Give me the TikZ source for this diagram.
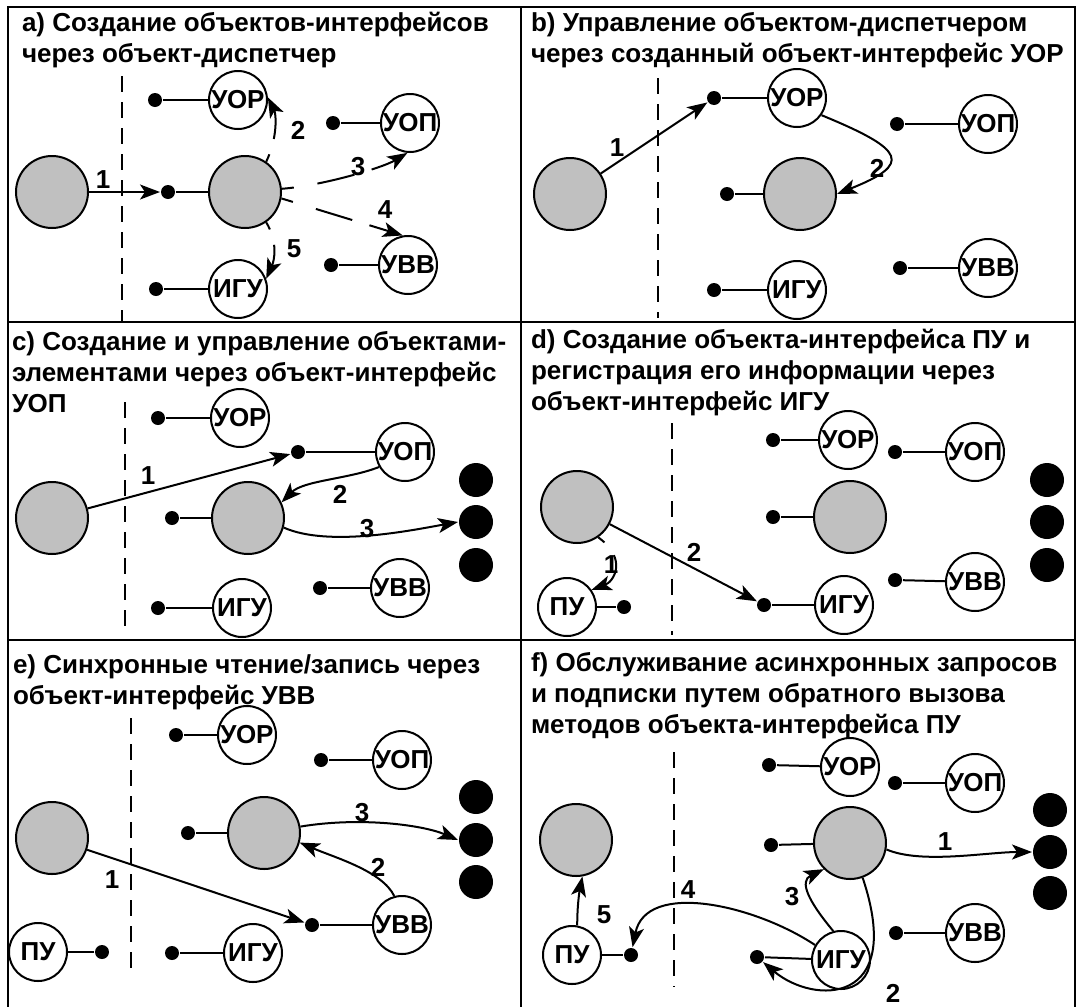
\documentclass[tikz,border=0pt]{standalone}
\usepackage{fontspec}
\setmainfont{Liberation Sans}
\usetikzlibrary{arrows.meta}
\definecolor{shade}{HTML}{C0C0C0}
\tikzset{
    disp/.style = {
        draw,
        shape=circle,
        fill=shade,
        minimum size=36pt,
        inner sep=0pt,
        line width=1pt
    },
    iface/.style = {
        draw,
        shape=circle,
        fill=white,
        minimum size=29pt,
        inner sep=-4pt,
        line width=1pt,
        font=\bfseries\fontsize{13}{15}\selectfont
    },
    pin/.style = {
        shape=circle,
        fill=black,
        minimum size=7pt,
        inner sep=0pt
    },
    elem/.style = {
        shape=circle,
        fill=black,
        minimum size=17pt,
        inner sep=0pt
    },
    num/.style = {
        inner sep=0pt,
        font=\bfseries\fontsize{13}{15}\selectfont
    },
    caption/.style = {
        anchor=base west,
        align=left,
        inner sep=0pt,
        font=\bfseries\fontsize{13}{15.5}\selectfont
    },
    frame/.style = {
        draw,
        line width=1.2pt
    },
    split/.style = {
        draw,
        line width=1.2pt,
        dash pattern=on 8pt off 5pt
    },
    spawn/.style = {
        ->,
        dash pattern=on 4pt off 8pt on 200pt off 0pt
    },
    spawnlong/.style = {
        ->,
        dash pattern=on 6pt off 12pt on 19pt off 9pt on 200pt off 0pt
    },
    >={Stealth[length=10pt,width=7.5pt,inset=2.5pt]},
}

\begin{document}
\begin{tikzpicture}[x=0.5pt,y=-0.5pt,line width=1pt]
    \useasboundingbox (0,0) rectangle (1082,1007);
    \path[frame] (8,1015) -- (8,7) -- (1075,7) -- (1075,1015);
    \path[frame] (521,7) -- (521,1015);
    \path[frame] (8,322) -- (1075,322);
    \path[frame] (8,640) -- (1075,640);

    % a) creating the interface objects
    \node[caption] (acap) at (21,62) {a) Создание объектов-интерфейсов\\через объект-диспетчер};
    \path[split] (122,76) -- (122,322);
    \node[disp] (aapp) at (52,192) {};
    \node[disp] (adisp) at (245,192) {};
    \node[pin] (adispp) at (168,192) {};
    \node[iface] (auor) at (238,100) {УОР};
    \node[pin] (auorp) at (155,100) {};
    \node[iface] (auop) at (410,123) {УОП};
    \node[pin] (auopp) at (333,123) {};
    \node[iface] (auvv) at (408,265) {УВВ};
    \node[pin] (auvvp) at (331,265) {};
    \node[iface] (aigu) at (238,289) {ИГУ};
    \node[pin] (aigup) at (156,289) {};
    \path[draw] (adispp) -- (adisp);
    \path[draw] (auorp) -- (auor);
    \path[draw] (auopp) -- (auop);
    \path[draw] (auvvp) -- (auvv);
    \path[draw] (aigup) -- (aigu);
    \path[draw, ->] (aapp) -- (adispp);
    \path[draw, spawn] (adisp.55) .. controls +(12,-25) and +(8,16) .. (auor.5);
    \path[draw, spawnlong] (adisp.5) .. controls +(40,-3) and +(-25,15) .. (auop.-95);
    \path[draw, spawnlong] (adisp.-10) -- (auvv.100);
    \path[draw, spawn] (adisp.-55) .. controls +(12,20) and +(8,-18) .. (aigu.20);
    \node[num] (a1) at (103,180) {1};
    \node[num] (a2) at (298,130) {2};
    \node[num] (a3) at (358,167) {3};
    \node[num] (a4) at (385,210) {4};
    \node[num] (a5) at (294,249) {5};

    % b) managing the dispatcher
    \node[caption] (bcap) at (530,62) {b) Управление объектом-диспетчером\\через созданный объект-интерфейс УОР};
    \path[split] (658,78) -- (658,318);
    \node[disp] (bapp) at (570,194) {};
    \node[disp] (bdisp) at (800,194) {};
    \node[pin] (bdispp) at (727,194) {};
    \node[iface] (buor) at (797,98) {УОР};
    \node[pin] (buorp) at (714,98) {};
    \node[iface] (buop) at (988,124) {УОП};
    \node[pin] (buopp) at (897,124) {};
    \node[iface] (buvv) at (988,268) {УВВ};
    \node[pin] (buvvp) at (900,268) {};
    \node[iface] (bigu) at (797,290) {ИГУ};
    \node[pin] (bigup) at (714,290) {};
    \path[draw] (bdispp) -- (bdisp);
    \path[draw] (buorp) -- (buor);
    \path[draw] (buopp) -- (buop);
    \path[draw] (buvvp) -- (buvv);
    \path[draw] (bigup) -- (bigu);
    \path[draw, ->] (bapp) -- (buorp);
    \path[draw, ->] (buor.-35) .. controls +(85,35) and +(75,-30) .. (bdisp.east);
    \node[num] (b1) at (617,148) {1};
    \node[num] (b2) at (877,168) {2};

    % c) elements through UOP
    \node[caption] (ccap) at (11,412) {c) Создание и управление объектами-\\элементами через объект-интерфейс\\УОП};
    \path[split] (125,402) -- (125,632);
    \node[disp] (capp) at (52,518) {};
    \node[disp] (cdisp) at (248,518) {};
    \node[pin] (cdispp) at (172,518) {};
    \node[iface] (cuor) at (240,418) {УОР};
    \node[pin] (cuorp) at (158,418) {};
    \node[iface] (cuop) at (405,452) {УОП};
    \node[pin] (cuopp) at (298,452) {};
    \node[iface] (cuvv) at (400,588) {УВВ};
    \node[pin] (cuvvp) at (320,588) {};
    \node[iface] (cigu) at (242,608) {ИГУ};
    \node[pin] (cigup) at (158,608) {};
    \node[elem] (cel1) at (476,480) {};
    \node[elem] (cel2) at (476,522) {};
    \node[elem] (cel3) at (476,565) {};
    \path[draw] (cdispp) -- (cdisp);
    \path[draw] (cuorp) -- (cuor);
    \path[draw] (cuopp) -- (cuop);
    \path[draw] (cuvvp) -- (cuvv);
    \path[draw] (cigup) -- (cigu);
    \path[draw, ->] (capp) -- (cuopp);
    \path[draw, ->] (cuop.-150) .. controls +(-30,12) and +(22,-22) .. (cdisp.25);
    \path[draw, ->] (cdisp.-15) .. controls +(45,20) and +(-45,8) .. (cel2.west);
    \node[num] (c1) at (148,476) {1};
    \node[num] (c2) at (340,494) {2};
    \node[num] (c3) at (367,529) {3};

    % d) PU and IGU
    \node[caption] (dcap) at (530,410) {d) Создание объекта-интерфейса ПУ и\\регистрация его информации через\\объект-интерфейс ИГУ};
    \path[split] (672,423) -- (672,635);
    \node[disp] (dapp) at (577,507) {};
    \node[iface] (dpu) at (567,607) {ПУ};
    \node[pin] (dpup) at (624,607) {};
    \node[disp] (ddisp) at (850,517) {};
    \node[pin] (ddispp) at (773,517) {};
    \node[iface] (duor) at (848,440) {УОР};
    \node[pin] (duorp) at (773,440) {};
    \node[iface] (duop) at (975,452) {УОП};
    \node[pin] (duopp) at (895,452) {};
    \node[iface] (duvv) at (975,582) {УВВ};
    \node[pin] (duvvp) at (895,580) {};
    \node[iface] (digu) at (844,605) {ИГУ};
    \node[pin] (digup) at (764,605) {};
    \node[elem] (del1) at (1047,480) {};
    \node[elem] (del2) at (1047,522) {};
    \node[elem] (del3) at (1047,565) {};
    \path[draw] (dpup) -- (dpu);
    \path[draw] (ddispp) -- (ddisp);
    \path[draw] (duorp) -- (duor);
    \path[draw] (duopp) -- (duop);
    \path[draw] (duvvp) -- (duvv);
    \path[draw] (digup) -- (digu);
    \path[draw, spawn] (dapp.-55) .. controls +(30,22) and +(22,-8) .. (dpu.35);
    \path[draw, ->] (dapp) -- (digup);
    \node[num] (d1) at (611,565) {1};
    \node[num] (d2) at (694,552) {2};

    % e) synchronous read/write
    \node[caption] (ecap) at (12,704) {e) Синхронные чтение/запись через\\объект-интерфейс УВВ};
    \path[split] (131,718) -- (131,973);
    \node[disp] (eapp) at (52,838) {};
    \node[iface] (epu) at (38,952) {ПУ};
    \node[pin] (epup) at (102,952) {};
    \node[disp] (edisp) at (264,833) {};
    \node[pin] (edispp) at (188,833) {};
    \node[iface] (euor) at (247,735) {УОР};
    \node[pin] (euorp) at (176,735) {};
    \node[iface] (euop) at (402,760) {УОП};
    \node[pin] (euopp) at (321,760) {};
    \node[iface] (euvv) at (402,925) {УВВ};
    \node[pin] (euvvp) at (312,925) {};
    \node[iface] (eigu) at (253,953) {ИГУ};
    \node[pin] (eigup) at (172,953) {};
    \node[elem] (eel1) at (476,797) {};
    \node[elem] (eel2) at (476,840) {};
    \node[elem] (eel3) at (476,882) {};
    \path[draw] (epup) -- (epu);
    \path[draw] (edispp) -- (edisp);
    \path[draw] (euorp) -- (euor);
    \path[draw] (euopp) -- (euop);
    \path[draw] (euvvp) -- (euvv);
    \path[draw] (eigup) -- (eigu);
    \path[draw, ->] (eapp) -- (euvvp);
    \path[draw, ->] (euvv.105) .. controls +(-12,-25) and +(35,15) .. (edisp.-15);
    \path[draw, ->] (edisp.10) .. controls +(60,-10) and +(-35,-15) .. (eel2.west);
    \node[num] (e1) at (112,880) {1};
    \node[num] (e2) at (378,867) {2};
    \node[num] (e3) at (362,813) {3};

    % f) async requests and callbacks
    \node[caption] (fcap) at (530,733) {f) Обслуживание асинхронных запросов\\и подписки путем обратного вызова\\методов объекта-интерфейса ПУ};
    \path[split] (674,752) -- (674,987);
    \node[disp] (fapp) at (576,840) {};
    \node[iface] (fpu) at (572,955) {ПУ};
    \node[pin] (fpup) at (631,955) {};
    \node[disp] (fdisp) at (850,843) {};
    \node[pin] (fdispp) at (771,845) {};
    \node[iface] (fuor) at (850,767) {УОР};
    \node[pin] (fuorp) at (769,765) {};
    \node[iface] (fuop) at (975,783) {УОП};
    \node[pin] (fuopp) at (895,783) {};
    \node[iface] (fuvv) at (975,933) {УВВ};
    \node[pin] (fuvvp) at (896,933) {};
    \node[iface] (figu) at (841,960) {ИГУ};
    \node[pin] (figup) at (757,957) {};
    \node[elem] (fel1) at (1050,810) {};
    \node[elem] (fel2) at (1050,852) {};
    \node[elem] (fel3) at (1050,893) {};
    \path[draw] (fpup) -- (fpu);
    \path[draw] (fdispp) -- (fdisp);
    \path[draw] (fuorp) -- (fuor);
    \path[draw] (fuopp) -- (fuop);
    \path[draw] (fuvvp) -- (fuvv);
    \path[draw] (figup) -- (figu);
    \path[draw, ->] (fdisp.-10) .. controls +(35,15) and +(-45,0) .. (fel2.west);
    \path[draw, ->] (fdisp.-70) .. controls +(43,128) and +(57,48) .. (figup);
    \path[draw, ->] (figu.105) .. controls +(-25,-30) and +(-25,12) .. (fdisp.-135);
    \path[draw, ->] (figu.150) .. controls +(-60,-40) and +(15,-75) .. (fpup);
    \path[draw, ->] (fpu.80) .. controls +(0,-20) and +(-3,15) .. (fapp.-80);
    \node[num] (f1) at (945,842) {1};
    \node[num] (f2) at (893,993) {2};
    \node[num] (f3) at (792,897) {3};
    \node[num] (f4) at (688,890) {4};
    \node[num] (f5) at (604,915) {5};
\end{tikzpicture}
\end{document}
